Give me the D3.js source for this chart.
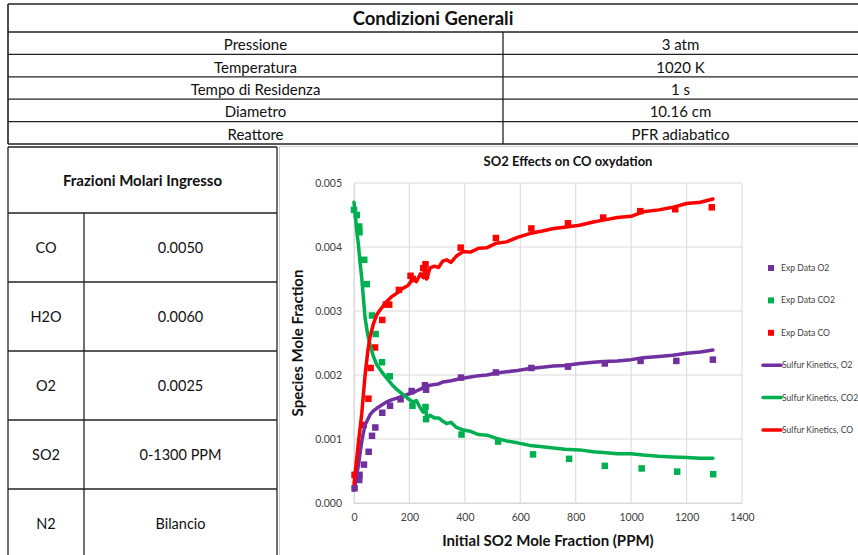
<!DOCTYPE html>
<html><head><meta charset="utf-8">
<script src="https://cdn.jsdelivr.net/npm/d3@7"></script>
<style>
html,body{margin:0;padding:0;background:#fff;}
svg text{font-family:Lato,"Open Sans",sans-serif;}
</style></head>
<body>
<svg id="c" width="858" height="555"></svg>
<script>
// ---- Data ----
const generalTitle = "Condizioni Generali";
const generalLabels = ["Pressione","Temperatura","Tempo di Residenza","Diametro","Reattore"];
const generalValues = ["3 atm","1020 K","1 s","10.16 cm","PFR adiabatico"];
const inletTitle = "Frazioni Molari Ingresso";
const inletSpecies = ["CO","H2O","O2","SO2","N2"];
const inletValues = ["0.0050","0.0060","0.0025","0-1300 PPM","Bilancio"];

const chartTitle = "SO2 Effects on CO oxydation";
const xTitle = "Initial SO2 Mole Fraction (PPM)";
const yTitle = "Species Mole Fraction";
const xTicks = [0,200,400,600,800,1000,1200,1400];
const yTicks = [0,0.001,0.002,0.003,0.004,0.005];

const expO2X  = [2,19,20,36,53,65,77,102,130,168,208,256,260,386,512,640,772,905,1034,1163,1295];
const expO2Y  = [0.00023,0.00036,0.00044,0.0006,0.0008,0.00105,0.00118,0.00141,0.00152,0.00162,0.00175,0.00184,0.00177,0.00196,0.00204,0.00211,0.00213,0.00218,0.00222,0.00222,0.00224];
const expCO2X = [0,10,19,20,37,46,65,78,101,129,211,258,260,388,520,646,776,905,1038,1166,1296];
const expCO2Y = [0.00458,0.0045,0.00432,0.00423,0.0038,0.00342,0.00293,0.00264,0.0022,0.00198,0.00152,0.0015,0.00131,0.00107,0.00096,0.00076,0.00069,0.00058,0.00054,0.00049,0.00045];
const expCOX  = [2,35,52,60,76,102,115,127,162,204,212,250,258,260,385,512,640,772,899,1033,1159,1291];
const expCOY  = [0.00044,0.00122,0.00163,0.00211,0.00243,0.00286,0.0031,0.0031,0.00333,0.00355,0.0035,0.00367,0.00373,0.00355,0.00399,0.00414,0.00429,0.00437,0.00446,0.00456,0.00459,0.00462];

const modelX = [0,5,10,16,22,28,34,40,50,58,70,82,100,118,135,155,175,195,212,225,240,250,258,262,274,290,305,320,334,350,370,394,420,450,480,514,550,590,634,680,720,760,814,863,900,950,1000,1043,1100,1150,1200,1250,1295];
const modelCO = [0.0003,0.0005,0.0007,0.00095,0.00117,0.0014,0.0017,0.002,0.00238,0.0026,0.0028,0.00294,0.00305,0.00315,0.00322,0.00328,0.00335,0.0034,0.0035,0.00346,0.00358,0.00352,0.00372,0.0035,0.00367,0.0037,0.00368,0.00378,0.0038,0.00376,0.00386,0.00393,0.00392,0.00398,0.00399,0.00406,0.00408,0.00415,0.00421,0.00425,0.00429,0.00431,0.00434,0.00439,0.00442,0.00446,0.00448,0.00455,0.00458,0.00462,0.00468,0.0047,0.00475];
const modelCO2 = [0.0047,0.0045,0.00425,0.00403,0.00375,0.00351,0.0032,0.00289,0.00262,0.00247,0.00229,0.00216,0.00205,0.00195,0.00186,0.00177,0.0017,0.00163,0.00158,0.0016,0.00148,0.00142,0.00152,0.00132,0.00137,0.00133,0.00133,0.00128,0.00124,0.00126,0.00118,0.00114,0.00112,0.00107,0.00106,0.00101,0.00097,0.00094,0.0009,0.00088,0.00086,0.00084,0.00083,0.0008,0.00079,0.00077,0.00077,0.00075,0.00073,0.00072,0.00071,0.0007,0.0007];
const modelO2 = [0.0002,0.0003,0.00045,0.00059,0.00078,0.00096,0.0011,0.00122,0.00131,0.00138,0.00144,0.00148,0.00153,0.00158,0.00161,0.00164,0.00167,0.0017,0.00172,0.00175,0.00178,0.0018,0.00178,0.00183,0.00184,0.00185,0.00186,0.00189,0.0019,0.00191,0.00193,0.00195,0.00197,0.00199,0.002,0.00203,0.00205,0.00207,0.0021,0.00212,0.00214,0.00215,0.00218,0.0022,0.00221,0.00222,0.00224,0.00227,0.00229,0.00231,0.00234,0.00236,0.00239];

const legendLabels = ["Exp Data O2","Exp Data CO2","Exp Data CO","Sulfur Kinetics, O2","Sulfur Kinetics, CO2","Sulfur Kinetics, CO"];
const colO2 = "#7030A0", colCO2 = "#00B050", colCO = "#FF0000";

// ---- Drawing ----
const svg = d3.select("#c");
const line = (x1,y1,x2,y2,w,c)=>svg.append("line").attr("x1",x1).attr("y1",y1).attr("x2",x2).attr("y2",y2).attr("stroke",c||"#222").attr("stroke-width",w||1.3);
const txt = (x,y,s,size,bold,anchor)=>svg.append("text").attr("x",x).attr("y",y).attr("text-anchor",anchor||"middle").attr("dominant-baseline","central").attr("font-size",size).attr("font-weight",bold?"bold":"normal").attr("fill","#111").text(s);

// Top table
const tL=8, tR=870, tTop=4, tTitleB=32, rowH=22.4, divX=503;
line(tL,tTop,tR,tTop,1.6);
line(tL,tTop,tL,144,1.6);
line(tL,tTitleB,tR,tTitleB,1.3);
generalLabels.forEach((l,i)=>{
  const y0=tTitleB+i*rowH, y1=y0+rowH;
  line(tL,y1,tR,y1,1.3);
  txt((tL+divX)/2,(y0+y1)/2+1,l,15);
  txt((divX+858)/2,(y0+y1)/2+1,generalValues[i],15);
});
line(divX,tTitleB,divX,144,1.3);
txt((tL+858)/2,18,generalTitle,18.5,true);

// Left table
const lL=8, lR=277, lTop=147, lHeadB=213, lRowH=69, lDiv=84;
line(lL,lTop,lR,lTop,1.3);
line(lL,lTop,lL,555,1.3);
line(lR,lTop,lR,555,1.3);
line(lL,lHeadB,lR,lHeadB,1.3);
txt((lL+lR)/2,(lTop+lHeadB)/2,inletTitle,15,true);
inletSpecies.forEach((s,i)=>{
  const y0=lHeadB+i*lRowH, y1=y0+lRowH;
  if(i<inletSpecies.length-1) line(lL,y1,lR,y1,1.3);
  txt((lL+lDiv)/2,(y0+y1)/2,s,14.5);
  txt((lDiv+lR)/2,(y0+y1)/2,inletValues[i],14.5);
});
line(lDiv,lHeadB,lDiv,555,1.3);

// Chart frame
svg.append("rect").attr("x",279.5).attr("y",146.5).attr("width",590).attr("height",420).attr("fill","none").attr("stroke","#d0d0d0").attr("stroke-width",1);

const x = d3.scaleLinear().domain([0,1400]).range([354,742]);
const y = d3.scaleLinear().domain([0,0.005]).range([503,183]);

// grid
const g = svg.append("g");
g.selectAll(".gy").data(yTicks).enter().append("line").attr("x1",354).attr("x2",742).attr("y1",d=>y(d)).attr("y2",d=>y(d)).attr("stroke","#d9d9d9").attr("stroke-width",1);
g.selectAll(".gx").data(xTicks).enter().append("line").attr("y1",183).attr("y2",503).attr("x1",d=>x(d)).attr("x2",d=>x(d)).attr("stroke","#d9d9d9").attr("stroke-width",1);

// axes
const xa = svg.append("g").attr("transform","translate(0,503)").call(d3.axisBottom(x).tickValues(xTicks).tickSize(0).tickPadding(11).tickFormat(d3.format("d")));
const ya = svg.append("g").attr("transform","translate(354,0)").call(d3.axisLeft(y).tickValues(yTicks).tickSize(0).tickPadding(12).tickFormat(d3.format(".3f")));
[xa,ya].forEach(a=>{a.select(".domain").attr("stroke","#d9d9d9");a.selectAll("text").attr("font-size",10.5).attr("fill","#404040").attr("font-family","Lato, 'Open Sans', sans-serif");});

// titles
txt(568,161,chartTitle,13,true);
txt(548,540,xTitle,15,true);
svg.append("text").attr("transform","translate(297,343) rotate(-90)").attr("text-anchor","middle").attr("dominant-baseline","central").attr("font-size",15).attr("font-weight","bold").attr("fill","#111").text(yTitle);

// markers
const ms=6.5;
const markers=(xs,ys,c)=>svg.append("g").selectAll("rect").data(xs.map((v,i)=>[v,ys[i]])).enter().append("rect")
  .attr("x",d=>x(d[0])-ms/2).attr("y",d=>y(d[1])-ms/2).attr("width",ms).attr("height",ms).attr("fill",c);
markers(expO2X,expO2Y,colO2);
markers(expCO2X,expCO2Y,colCO2);
markers(expCOX,expCOY,colCO);

const lg = d3.line().x(d=>x(d[0])).y(d=>y(d[1]));
const drawModel=(ys,c)=>svg.append("path").datum(modelX.map((v,i)=>[v,ys[i]])).attr("d",lg).attr("fill","none").attr("stroke",c).attr("stroke-width",3.5).attr("stroke-linejoin","round").attr("stroke-linecap","round");
drawModel(modelO2,colO2);
drawModel(modelCO2,colCO2);
drawModel(modelCO,colCO);

// legend
const legCols=[colO2,colCO2,colCO,colO2,colCO2,colCO];
legendLabels.forEach((l,i)=>{
  const ly=268+i*32.4;
  if(i<3){
    svg.append("rect").attr("x",768).attr("y",ly-3).attr("width",6).attr("height",6).attr("fill",legCols[i]);
  } else {
    line(763,ly,781,ly,3.5,legCols[i]).attr("stroke-linecap","round");
  }
  svg.append("text").attr("x",i<3?781:782).attr("y",ly).attr("dominant-baseline","central").attr("font-size",8.6).attr("fill","#404040").text(l);
});
</script>
</body></html>
